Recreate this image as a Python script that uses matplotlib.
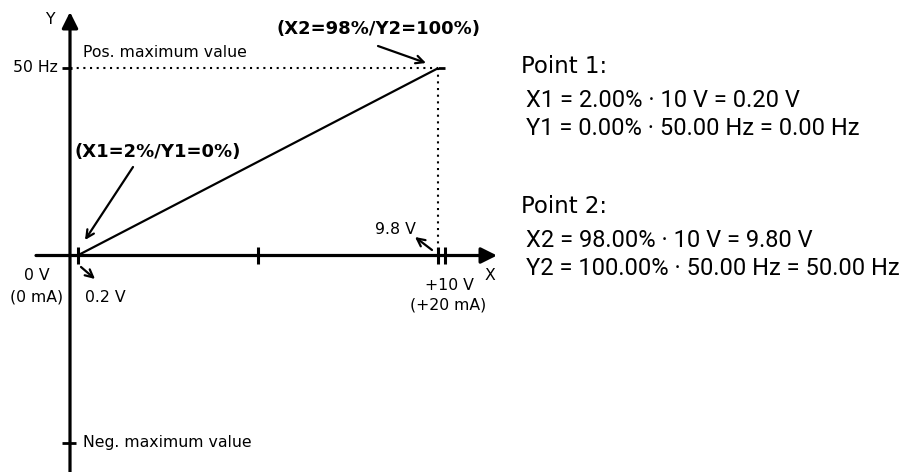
import matplotlib
matplotlib.use("Agg")
import matplotlib.pyplot as plt

# ---- data ----
v_full = 10.0            # V (full scale input)
f_max = 50.0             # Hz (pos. maximum value)
f_min = -50.0            # Hz (neg. maximum value)
x_pct = [2.0, 98.0]      # X1, X2 in %
y_pct = [0.0, 100.0]     # Y1, Y2 in %
x_ticks = [0.2, 5.0, 9.8, 10.0]
x_volts = [p / 100 * v_full for p in x_pct]
y_hz = [p / 100 * f_max for p in y_pct]

W, H = 900, 472
# pixel mapping for layout helpers
X0PX, XS = 70.0, 37.5      # px of 0 V, px per V
Y0PX, YS = 255.5, 3.74     # py of 0 Hz, px per Hz


def P(px, py):
    return ((px - X0PX) / XS, (Y0PX - py) / YS)


fig = plt.figure(figsize=(W / 100, H / 100), dpi=100)
ax = fig.add_axes([0, 0, 1, 1])
ax.set_xlim(P(0, 0)[0], P(W, 0)[0])
ax.set_ylim(P(0, H)[1], P(0, 0)[1])
ax.axis("off")

K = "black"
fs = 11.3

# axes with arrows
ax.annotate("", xy=P(497, Y0PX), xytext=P(36, Y0PX),
            arrowprops=dict(arrowstyle="-|>", lw=2.3, color=K,
                            mutation_scale=24, shrinkA=0, shrinkB=0))
ax.annotate("", xy=P(X0PX, 12), xytext=P(X0PX, 472),
            arrowprops=dict(arrowstyle="-|>", lw=2.3, color=K,
                            mutation_scale=24, shrinkA=0, shrinkB=0))

# x ticks
th = 8 / YS
for xt in x_ticks:
    ax.plot([xt, xt], [-th, th], color=K, lw=2.2, solid_capstyle="butt")
# y ticks
ax.plot([-8 / XS, 2 / XS], [f_max, f_max], color=K, lw=2.0, solid_capstyle="butt")
ax.plot([-8 / XS, 6 / XS], [f_min, f_min], color=K, lw=2.0, solid_capstyle="butt")
ax.plot([x_volts[1], v_full], [f_max, f_max], color=K, lw=2.0, solid_capstyle="butt")

# dotted guides
ax.plot([0, x_volts[1]], [f_max, f_max], color=K, lw=1.5, ls=(0, (1, 2.2)))
ax.plot([x_volts[1], x_volts[1]], [f_max, 0], color=K, lw=1.5, ls=(0, (1, 2.2)))

# characteristic line
ax.plot(x_volts, y_hz, color=K, lw=1.6, solid_capstyle="butt")

# pointer arrows
ap = dict(arrowstyle="->", lw=1.6, color=K, mutation_scale=14, shrinkA=0, shrinkB=0)
ax.annotate("", xy=P(85, 240), xytext=P(133, 167), arrowprops=ap)
ax.annotate("", xy=P(426, 63), xytext=P(378, 46), arrowprops=ap)
ax.annotate("", xy=P(95, 279), xytext=P(81, 267), arrowprops=ap)
ax.annotate("", xy=P(415, 237), xytext=P(432, 250), arrowprops=ap)

# labels (left diagram)
def T(px, py, s, ha="left", va="center", **kw):
    ax.text(*P(px, py), s, ha=ha, va=va, fontsize=kw.pop("fontsize", fs),
            family="DejaVu Sans", **kw)

T(50, 20, "Y", ha="center")
T(490, 276, "X", ha="center")
T(58, 68, "50 Hz", ha="right")
T(83, 53, "Pos. maximum value")
T(83, 442, "Neg. maximum value")
T(74, 152, "(X1=2%/Y1=0%)", fontweight="bold", fontsize=13)
T(480, 29, "(X2=98%/Y2=100%)", ha="right", fontweight="bold", fontsize=13)
T(37, 276, "0 V", ha="center")
T(37, 297, "(0 mA)", ha="center")
T(85, 297, "0.2 V")
T(416, 230, "9.8 V", ha="right")
T(449, 285, "+10 V", ha="center")
T(448, 305, "(+20 mA)", ha="center")

# formulas on the right
hdr = dict(fontsize=16.5, family=["DejaVu Sans"], va="baseline", ha="left")
frm = dict(fontsize=17, family=["Roboto", "DejaVu Sans"],
           va="baseline", ha="left")
fx = lambda px: px / W
fy = lambda py: 1 - py / H
fig.text(fx(521), fy(73), "Point 1:", **hdr)
fig.text(fx(526), fy(107),
         f"X1 = {x_pct[0]:.2f}% \u00b7 {v_full:.0f} V = {x_volts[0]:.2f} V", **frm)
fig.text(fx(526), fy(135),
         f"Y1 = {y_pct[0]:.2f}% \u00b7 {f_max:.2f} Hz = {y_hz[0]:.2f} Hz", **frm)
fig.text(fx(521), fy(213), "Point 2:", **hdr)
fig.text(fx(526), fy(247),
         f"X2 = {x_pct[1]:.2f}% \u00b7 {v_full:.0f} V = {x_volts[1]:.2f} V", **frm)
fig.text(fx(526), fy(275),
         f"Y2 = {y_pct[1]:.2f}% \u00b7 {f_max:.2f} Hz = {y_hz[1]:.2f} Hz", **frm)

fig.savefig("out.png", dpi=100)
